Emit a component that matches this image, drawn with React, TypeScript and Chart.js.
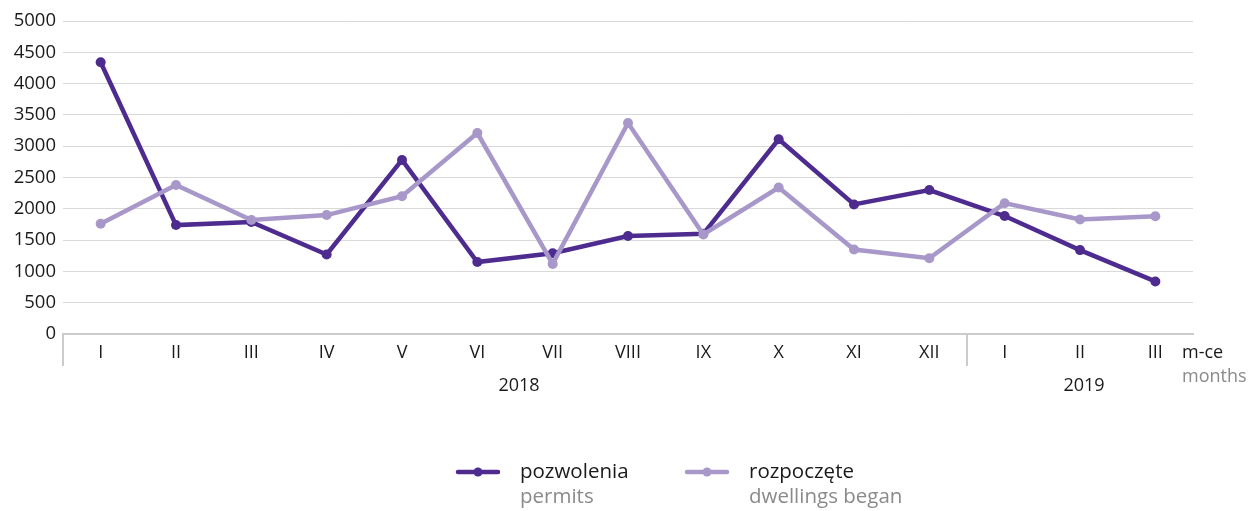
import React, { useEffect, useRef } from 'react';
import { Chart, registerables } from 'chart.js';
Chart.register(...registerables);

const months = ['I', 'II', 'III', 'IV', 'V', 'VI', 'VII', 'VIII', 'IX', 'X', 'XI', 'XII', 'I', 'II', 'III'];
const years = ['2018', '2019'];
const yearSpans = [12, 3];
const permits = [4340, 1740, 1790, 1270, 2780, 1150, 1290, 1565, 1600, 3110, 2070, 2300, 1885, 1340, 840];
const began = [1760, 2380, 1820, 1900, 2200, 3210, 1120, 3370, 1590, 2340, 1350, 1210, 2090, 1830, 1880];
const seriesPL = ['pozwolenia', 'rozpoczęte'];
const seriesEN = ['permits', 'dwellings began'];
const axisPL = 'm-ce';
const axisEN = 'months';
const yMin = 0;
const yMax = 5000;
const yStep = 500;

const DARK = '#4e2b8f';
const LIGHT = '#a897c9';
const TEXT = '#1a1a1a';
const SUB = '#8a8a8a';
const FONT = '"Open Sans", "Noto Sans", sans-serif';

const extras = {
  id: 'extras',
  afterDraw(chart: any) {
    const ctx = chart.ctx;
    const x = chart.scales.x;
    const area = chart.chartArea;
    const step = x.getPixelForValue(1) - x.getPixelForValue(0);
    ctx.save();
    ctx.strokeStyle = '#cccccc';
    ctx.lineWidth = 2;
    let idx = 0;
    const bounds: number[] = [area.left];
    yearSpans.forEach((s) => {
      idx += s;
      bounds.push(x.getPixelForValue(idx - 1) + step / 2);
    });
    for (let i = 0; i < bounds.length - 1; i++) {
      ctx.beginPath();
      ctx.moveTo(bounds[i], area.bottom);
      ctx.lineTo(bounds[i], area.bottom + 32);
      ctx.stroke();
    }
    ctx.fillStyle = TEXT;
    ctx.font = `18px ${FONT}`;
    ctx.textAlign = 'center';
    ctx.textBaseline = 'middle';
    years.forEach((y, i) => {
      ctx.fillText(y, (bounds[i] + bounds[i + 1]) / 2 + 4, area.bottom + 52);
    });
    ctx.textAlign = 'left';
    ctx.fillText(axisPL, area.right - 11, area.bottom + 19);
    ctx.fillStyle = SUB;
    ctx.fillText(axisEN, area.right - 11, area.bottom + 43);
    const items = [
      { c: DARK, x: 458 },
      { c: LIGHT, x: 687 },
    ];
    const ly = 472;
    items.forEach((it, i) => {
      ctx.strokeStyle = it.c;
      ctx.lineWidth = 4.5;
      ctx.lineCap = 'round';
      ctx.beginPath();
      ctx.moveTo(it.x, ly);
      ctx.lineTo(it.x + 40, ly);
      ctx.stroke();
      ctx.fillStyle = it.c;
      ctx.beginPath();
      ctx.arc(it.x + 20, ly, 4.5, 0, Math.PI * 2);
      ctx.fill();
      ctx.font = `20.5px ${FONT}`;
      ctx.textAlign = 'left';
      ctx.fillStyle = TEXT;
      ctx.fillText(seriesPL[i], it.x + 62, ly);
      ctx.fillStyle = SUB;
      ctx.fillText(seriesEN[i], it.x + 62, ly + 25);
    });
    ctx.restore();
  },
};

export default function App() {
  const ref = useRef<HTMLCanvasElement>(null);
  useEffect(() => {
    if (!ref.current) return;
    const chart = new Chart(ref.current, {
      type: 'line',
      data: {
        labels: months,
        datasets: [
          {
            label: seriesPL[0],
            data: permits,
            borderColor: DARK,
            backgroundColor: DARK,
            borderWidth: 4.5,
            pointRadius: 5,
            pointBorderWidth: 0,
            pointBackgroundColor: DARK,
            tension: 0,
            order: 2,
          },
          {
            label: seriesPL[1],
            data: began,
            borderColor: LIGHT,
            backgroundColor: LIGHT,
            borderWidth: 4.5,
            pointRadius: 5,
            pointBorderWidth: 0,
            pointBackgroundColor: LIGHT,
            tension: 0,
            order: 1,
          },
        ],
      },
      options: {
        animation: false,
        responsive: true,
        maintainAspectRatio: false,
        layout: { padding: { left: 0, top: 21, right: 64, bottom: 0 } },
        plugins: { legend: { display: false }, tooltip: { enabled: false } },
        scales: {
          x: {
            offset: true,
            grid: { display: false, drawTicks: false },
            border: { display: true, color: '#cccccc', width: 2 },
            ticks: { color: TEXT, font: { family: FONT, size: 18 }, padding: 8, maxRotation: 0, autoSkip: false },
            afterFit: (a: any) => { a.height = 177; },
          },
          y: {
            min: yMin,
            max: yMax,
            grid: { color: '#d9d9d9', lineWidth: 1, drawTicks: false },
            border: { display: false },
            ticks: {
              stepSize: yStep,
              color: TEXT,
              font: { family: FONT, size: 18.5 },
              padding: 7,
              callback: (v: any) => String(v),
            },
            afterFit: (a: any) => { a.width = 63; },
          },
        },
      },
      plugins: [extras],
    });
    return () => chart.destroy();
  }, []);
  return (
    <div style={{ position: 'fixed', left: 0, top: 0, width: 1257, height: 511, background: '#fff' }}>
      <canvas ref={ref} />
    </div>
  );
}
